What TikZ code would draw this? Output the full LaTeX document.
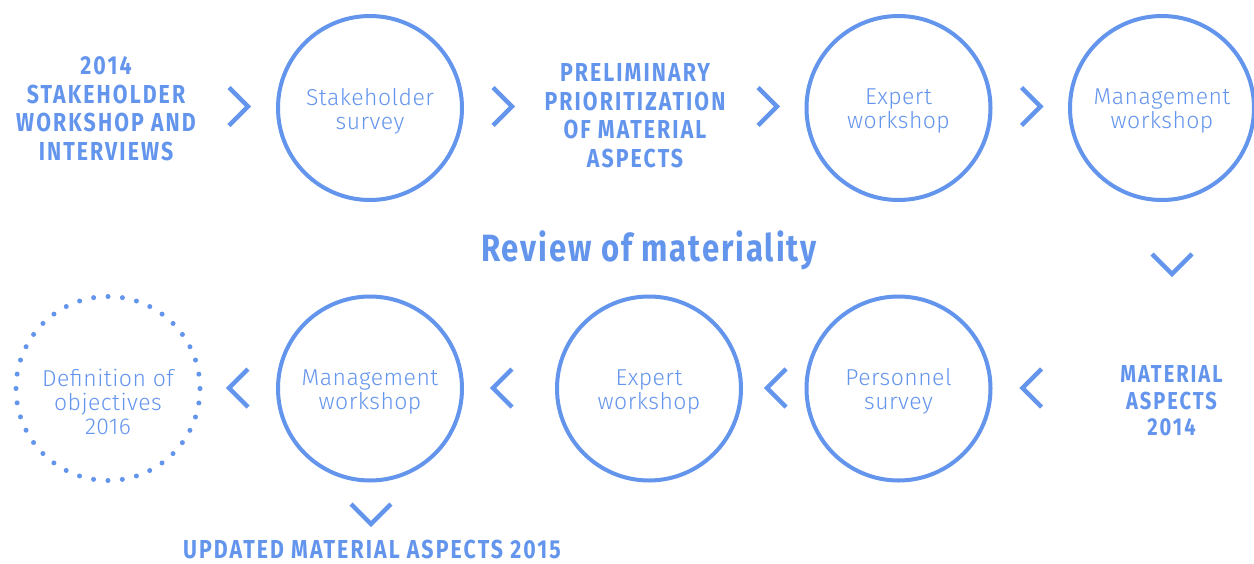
\documentclass[tikz,border=0pt]{standalone}
\usepackage{fontspec}
\setmainfont{Fira Sans}
\newfontfamily\headfont[FakeStretch=0.82,LetterSpace=8]{Fira Sans Bold}
\newfontfamily\titlefont[FakeStretch=0.82,LetterSpace=5]{Fira Sans Bold}
\IfFontExistsTF{Fira Sans Light}
  {\newfontfamily\lightfont[LetterSpace=2]{Fira Sans Light}}
  {\newfontfamily\lightfont[LetterSpace=2]{Fira Sans}}
\usetikzlibrary{calc}
\definecolor{flowblue}{RGB}{100,149,237}
\tikzset{
  stage/.style={circle, draw=flowblue, line width=4pt, minimum size=184pt,
    inner sep=0pt, text=flowblue, align=center,
    font=\lightfont\fontsize{23}{24}\selectfont},
  stagetext/.style={text=flowblue, align=center, inner sep=0pt,
    font=\lightfont\fontsize{23}{24}\selectfont},
  goal/.style={circle, draw=flowblue, line width=5pt, line cap=round,
    dash pattern=on 0pt off 14.45pt, minimum size=184pt, inner sep=0pt},
  milestone/.style={text=flowblue, align=center, inner sep=0pt,
    font=\headfont\fontsize{26}{28.8}\selectfont},
  milestonesmall/.style={milestone, font=\headfont\fontsize{24.5}{26.7}\selectfont},
  heading/.style={text=flowblue, inner sep=0pt,
    font=\titlefont\fontsize{38}{40}\selectfont},
  chevline/.style={draw=flowblue, line width=4.5pt},
  chevR/.pic={\draw[chevline] (-9.5,-19) -- (9.5,0) -- (-9.5,19);},
  chevL/.pic={\draw[chevline] (9.5,-19) -- (-9.5,0) -- (9.5,19);},
  chevD/.pic={\draw[chevline] (-20,-10) -- (0,10) -- (20,-10);},
}
\begin{document}
\begin{tikzpicture}[x=1pt,y=-1pt]
  \fill[white] (0,0) rectangle (1254,563);
  \useasboundingbox (0,0) rectangle (1254,563);

  % upper row
  \node[milestone] (kickoff) at (106,108.7)
    {2014\\STAKEHOLDER\\WORKSHOP AND\\INTERVIEWS};
  \node[stage] (survey) at (370,108) {};
  \node[stagetext] at ($(survey.center)+(0,3)$) {Stakeholder\\survey};
  \node[milestone] (prelim) at (635,115.8)
    {PRELIMINARY\\PRIORITIZATION\\OF MATERIAL\\ASPECTS};
  \node[stage] (expertA) at (898.5,108) {};
  \node[stagetext] at ($(expertA.center)+(0,3)$) {Expert\\workshop};
  \node[stage] (mgmtA) at (1162,108) {};
  \node[stagetext] at ($(mgmtA.center)+(0,3)$) {Management\\workshop};

  % title
  \node[heading] (title) at (649,250) {Review of materiality};

  % lower row
  \node[milestonesmall] (aspects14) at (1171.5,400.9)
    {MATERIAL\\ASPECTS\\2014};
  \node[stage] (personnel) at (898.5,388.5) {};
  \node[stagetext] at ($(personnel.center)+(0,3)$) {Personnel\\survey};
  \node[stage] (expertB) at (649,388.5) {};
  \node[stagetext] at ($(expertB.center)+(0,3)$) {Expert\\workshop};
  \node[stage] (mgmtB) at (370,388.5) {};
  \node[stagetext] at ($(mgmtB.center)+(0,3)$) {Management\\workshop};
  \node[goal] (goal) at (108,388.5) {};
  \node[stagetext] (goaltxt) at ($(goal.center)+(0,13)$) {Definition of\\objectives\\2016};
  \node[milestone] (aspects15) at (372,549.5) {UPDATED MATERIAL ASPECTS 2015};

  % chevrons between the steps
  \coordinate (c1) at (238.5,106.5);
  \coordinate (c2) at (502.5,106.5);
  \coordinate (c3) at (767.5,106.5);
  \coordinate (c4) at (1031,106.5);
  \coordinate (c5) at (1172,264);
  \coordinate (c6) at (1032,388);
  \coordinate (c7) at (776.5,388);
  \coordinate (c8) at (502.5,388);
  \coordinate (c9) at (238.5,388);
  \coordinate (c10) at (371,514);
  \foreach \c in {c1,c2,c3,c4} \pic at (\c) {chevR};
  \foreach \c in {c6,c7,c8,c9} \pic at (\c) {chevL};
  \foreach \c in {c5,c10} \pic at (\c) {chevD};
\end{tikzpicture}
\end{document}
